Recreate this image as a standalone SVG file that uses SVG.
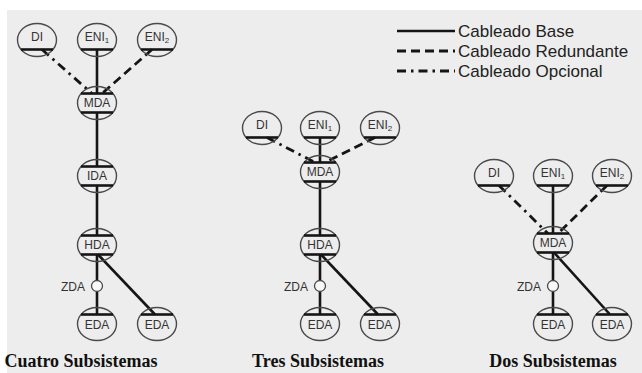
<svg xmlns="http://www.w3.org/2000/svg" xmlns:xlink="http://www.w3.org/1999/xlink" width="642" height="373" viewBox="0 0 642 373">
<style>
.ring{fill:none;stroke:#4a4a4a;stroke-width:1.4}
.bar{stroke:#151515;stroke-width:2.6}
.lbl{font-family:"Liberation Sans",Arial,sans-serif;font-size:12px;fill:#333;text-anchor:middle}
.sub{font-size:8px}
.solid{stroke:#151515;stroke-width:2.6;fill:none}
.dash{stroke:#151515;stroke-width:2.8;fill:none;stroke-dasharray:9 5}
.dashdot{stroke:#151515;stroke-width:2.8;fill:none;stroke-dasharray:9 5 2.5 5}
.leg{font-family:"Liberation Sans",Arial,sans-serif;font-size:17px;fill:#222}
.title{font-family:"Liberation Serif","Times New Roman",serif;font-size:18px;font-weight:bold;fill:#111;text-anchor:middle}
.zda{font-family:"Liberation Sans",Arial,sans-serif;font-size:12px;fill:#333;text-anchor:end}
.zc{fill:#f8f8f8;stroke:#4a4a4a;stroke-width:1.3}
</style>
<defs>
<g id="nB"><ellipse class="ring" rx="19.5" ry="16.5"/><line class="bar" x1="-16" y1="9.5" x2="16" y2="9.5"/></g>
<g id="nTB"><ellipse class="ring" rx="19.5" ry="16.5"/><line class="bar" x1="-16" y1="-9.5" x2="16" y2="-9.5"/><line class="bar" x1="-16" y1="9.5" x2="16" y2="9.5"/></g>
<g id="nT"><ellipse class="ring" rx="19.5" ry="16.5"/><line class="bar" x1="-16" y1="-9.5" x2="16" y2="-9.5"/></g>
</defs>
<rect width="642" height="373" fill="#ffffff"/>
<rect x="7" y="10" width="635" height="363" fill="#ededed"/>

<g id="connectors">
<!-- panel 1 -->
<line class="dashdot" x1="42" y1="49.5" x2="92" y2="93.5"/>
<line class="solid" x1="97" y1="49.5" x2="97" y2="93.5"/>
<line class="dash" x1="152" y1="49.5" x2="102" y2="93.5"/>
<line class="solid" x1="97" y1="112.5" x2="97" y2="166.5"/>
<line class="solid" x1="97" y1="185.5" x2="97" y2="235.5"/>
<line class="solid" x1="97" y1="254.5" x2="97" y2="280.5"/>
<line class="solid" x1="97" y1="291.5" x2="97" y2="314.5"/>
<line class="solid" x1="98" y1="254.5" x2="155" y2="314.5"/>
<!-- panel 2 -->
<line class="dashdot" x1="267" y1="137.5" x2="315" y2="162.5"/>
<line class="solid" x1="320" y1="137.5" x2="320" y2="162.5"/>
<line class="dash" x1="375" y1="137.5" x2="325" y2="162.5"/>
<line class="solid" x1="320" y1="181.5" x2="320" y2="235.5"/>
<line class="solid" x1="320" y1="254.5" x2="320" y2="280.5"/>
<line class="solid" x1="320" y1="291.5" x2="320" y2="314.5"/>
<line class="solid" x1="321" y1="254.5" x2="378" y2="314.5"/>
<!-- panel 3 -->
<line class="dashdot" x1="499" y1="185.5" x2="548" y2="233.5"/>
<line class="solid" x1="553" y1="185.5" x2="553" y2="233.5"/>
<line class="dash" x1="607" y1="185.5" x2="558" y2="233.5"/>
<line class="solid" x1="553" y1="252.5" x2="553" y2="280.5"/>
<line class="solid" x1="553" y1="291.5" x2="553" y2="314.5"/>
<line class="solid" x1="554" y1="252.5" x2="610" y2="314.5"/>
</g>

<!-- Panel 1: Cuatro Subsistemas -->
<g id="p1-DI" transform="translate(37,40)"><use xlink:href="#nB"/><text class="lbl" y="1">DI</text></g>
<g id="p1-ENI1" transform="translate(97,40)"><use xlink:href="#nB"/><text class="lbl" y="1">ENI<tspan class="sub" dy="2">1</tspan></text></g>
<g id="p1-ENI2" transform="translate(157,40)"><use xlink:href="#nB"/><text class="lbl" y="1">ENI<tspan class="sub" dy="2">2</tspan></text></g>
<g id="p1-MDA" transform="translate(97,103)"><use xlink:href="#nTB"/><text class="lbl" y="4">MDA</text></g>
<g id="p1-IDA" transform="translate(97,176)"><use xlink:href="#nTB"/><text class="lbl" y="4">IDA</text></g>
<g id="p1-HDA" transform="translate(97,245)"><use xlink:href="#nTB"/><text class="lbl" y="4">HDA</text></g>
<g id="p1-ZDA" transform="translate(97,286)"><circle class="zc" r="5.5"/><text class="zda" x="-12" y="5">ZDA</text></g>
<g id="p1-EDA1" transform="translate(97,324)"><use xlink:href="#nT"/><text class="lbl" y="5">EDA</text></g>
<g id="p1-EDA2" transform="translate(157,324)"><use xlink:href="#nT"/><text class="lbl" y="5">EDA</text></g>
<text class="title" x="81" y="367">Cuatro Subsistemas</text>

<!-- Panel 2: Tres Subsistemas -->
<g id="p2-DI" transform="translate(262,128)"><use xlink:href="#nB"/><text class="lbl" y="1">DI</text></g>
<g id="p2-ENI1" transform="translate(320,128)"><use xlink:href="#nB"/><text class="lbl" y="1">ENI<tspan class="sub" dy="2">1</tspan></text></g>
<g id="p2-ENI2" transform="translate(380,128)"><use xlink:href="#nB"/><text class="lbl" y="1">ENI<tspan class="sub" dy="2">2</tspan></text></g>
<g id="p2-MDA" transform="translate(320,172)"><use xlink:href="#nTB"/><text class="lbl" y="4">MDA</text></g>
<g id="p2-HDA" transform="translate(320,245)"><use xlink:href="#nTB"/><text class="lbl" y="4">HDA</text></g>
<g id="p2-ZDA" transform="translate(320,286)"><circle class="zc" r="5.5"/><text class="zda" x="-12" y="5">ZDA</text></g>
<g id="p2-EDA1" transform="translate(320,324)"><use xlink:href="#nT"/><text class="lbl" y="5">EDA</text></g>
<g id="p2-EDA2" transform="translate(380,324)"><use xlink:href="#nT"/><text class="lbl" y="5">EDA</text></g>
<text class="title" x="318" y="367">Tres Subsistemas</text>

<!-- Panel 3: Dos Subsistemas -->
<g id="p3-DI" transform="translate(494,176)"><use xlink:href="#nB"/><text class="lbl" y="1">DI</text></g>
<g id="p3-ENI1" transform="translate(553,176)"><use xlink:href="#nB"/><text class="lbl" y="1">ENI<tspan class="sub" dy="2">1</tspan></text></g>
<g id="p3-ENI2" transform="translate(612,176)"><use xlink:href="#nB"/><text class="lbl" y="1">ENI<tspan class="sub" dy="2">2</tspan></text></g>
<g id="p3-MDA" transform="translate(553,243)"><use xlink:href="#nTB"/><text class="lbl" y="4">MDA</text></g>
<g id="p3-ZDA" transform="translate(553,286)"><circle class="zc" r="5.5"/><text class="zda" x="-12" y="5">ZDA</text></g>
<g id="p3-EDA1" transform="translate(553,324)"><use xlink:href="#nT"/><text class="lbl" y="5">EDA</text></g>
<g id="p3-EDA2" transform="translate(612,324)"><use xlink:href="#nT"/><text class="lbl" y="5">EDA</text></g>
<text class="title" x="553" y="367">Dos Subsistemas</text>

<!-- Legend -->
<g id="legend">
<line class="solid" x1="397" y1="31" x2="455" y2="31" stroke-width="3"/>
<line class="dash" x1="397" y1="51" x2="455" y2="51" stroke-dasharray="10 5"/>
<line class="dashdot" x1="397" y1="71" x2="455" y2="71" stroke-dasharray="10 4 3 4 3 4"/>
<text class="leg" x="458" y="37">Cableado Base</text>
<text class="leg" x="458" y="57">Cableado Redundante</text>
<text class="leg" x="458" y="77">Cableado Opcional</text>
</g>
</svg>
